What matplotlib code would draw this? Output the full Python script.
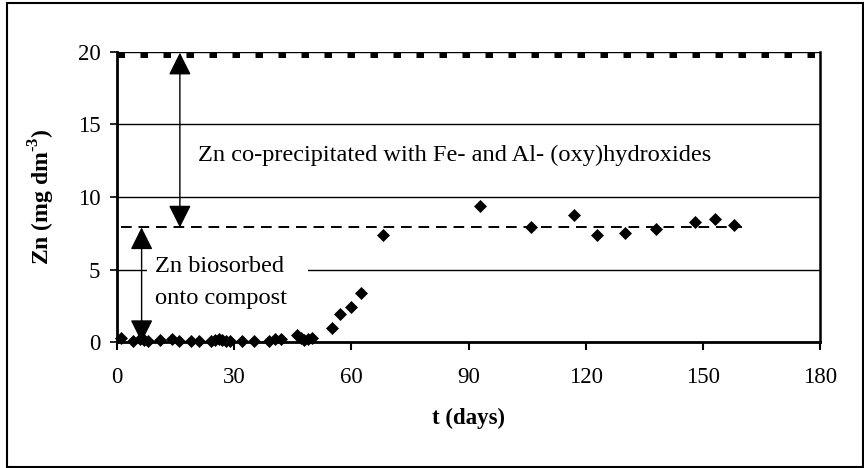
import matplotlib
matplotlib.use("Agg")
import matplotlib.pyplot as plt
from matplotlib.patches import Rectangle

# ---- data ----
days = [1, 4, 6, 7, 8, 11, 14, 16, 19, 21, 24, 25, 26, 27, 28, 29,
        32, 35, 39, 40.5, 42, 46, 47, 48, 49, 50,
        55, 57, 60, 62.5, 68, 93, 106, 117, 123, 130, 138, 148, 153, 158]
zn = [0.3, 0.1, 0.2, 0.15, 0.1, 0.15, 0.2, 0.1, 0.1, 0.05, 0.1, 0.15, 0.2, 0.15, 0.1, 0.1,
      0.05, 0.05, 0.1, 0.2, 0.2, 0.45, 0.3, 0.15, 0.2, 0.3,
      0.95, 1.95, 2.4, 3.4, 7.4, 9.35, 7.95, 8.75, 7.4, 7.55, 7.8, 8.25, 8.5, 8.1]
initial_level = 19.8
plateau_level = 7.9
initial_span = [0, 180]
plateau_span = [1, 160]
x_ticks = [0, 30, 60, 90, 120, 150, 180]
y_ticks = [0, 5, 10, 15, 20]

plt.rcParams['font.family'] = ['Liberation Serif', 'DejaVu Serif']
plt.rcParams['mathtext.fontset'] = 'custom'
plt.rcParams['mathtext.rm'] = 'Liberation Serif'
plt.rcParams['mathtext.bf'] = 'Liberation Serif:bold'

fig = plt.figure(figsize=(8.64, 4.68), dpi=100)
ax = fig.add_axes([117/864, 1-342/468, (820-117)/864, (342-52)/468])

# outer chart border
fig.patches.append(Rectangle((7/864, 1-467/468), (863-7)/864, (467-3)/468,
                             transform=fig.transFigure, fill=False,
                             edgecolor='black', linewidth=1.5))

ax.set_xlim(0, 180)
ax.set_ylim(0, 20)
ax.set_xticks(x_ticks)
ax.set_yticks(y_ticks)
ax.yaxis.grid(True, color='black', linewidth=1.0, zorder=0)
ax.set_axisbelow(True)

for s in ['left', 'bottom']:
    ax.spines[s].set_linewidth(2.0)
ax.spines['right'].set_linewidth(1.8)
ax.spines['top'].set_visible(False)

ax.tick_params(axis='x', direction='out', length=6, width=1.5, pad=12, labelsize=16.5)
ax.tick_params(axis='y', direction='out', length=5, width=1.2, pad=7, labelsize=16.5)

# reference levels
ax.plot(initial_span, [initial_level]*2, color='black', linewidth=3.6,
        linestyle=(0, (1.5, 3.1)), solid_capstyle='butt', dash_capstyle='butt', zorder=3)
ax.plot(plateau_span, [plateau_level]*2, color='black', linewidth=1.4,
        linestyle=(0, (5.5, 3.5)), zorder=3)

# white box behind label
ax.add_patch(Rectangle((7.7, 4.5), 41.2, 1.0, facecolor='white', edgecolor='none', zorder=2))

# data
ax.plot(days, zn, linestyle='none', marker='D', markersize=6.2,
        color='black', markeredgewidth=0.5, zorder=5, clip_on=False)

# arrows
arrow = dict(arrowstyle='<|-|>,head_length=1.0,head_width=0.5', color='black',
             linewidth=1.0, mutation_scale=14, shrinkA=0, shrinkB=0)
ax.annotate('', xy=(16.1, initial_level + 0.15), xytext=(16.1, plateau_level), arrowprops=arrow, zorder=6)
ax.annotate('', xy=(6.3, plateau_level), xytext=(6.3, 0), arrowprops=arrow, zorder=6)

ax.text(20.7, 12.9, 'Zn co-precipitated with Fe- and Al- (oxy)hydroxides',
        fontsize=17.6, va='center', ha='left', zorder=6)
ax.text(9.7, 5.21, 'Zn biosorbed', fontsize=17.6, va='center', ha='left', zorder=6)
ax.text(9.7, 3.02, 'onto compost', fontsize=17.6, va='center', ha='left', zorder=6)

ax.set_xlabel('t (days)', fontsize=16.5, fontweight='bold', labelpad=14)
ax.set_ylabel('Zn (mg dm$^{\\mathbf{\u20103}}$)', fontsize=17, fontweight='bold')
ax.yaxis.set_label_coords(-0.085, 0.5)

fig.savefig('out.png', dpi=100)
